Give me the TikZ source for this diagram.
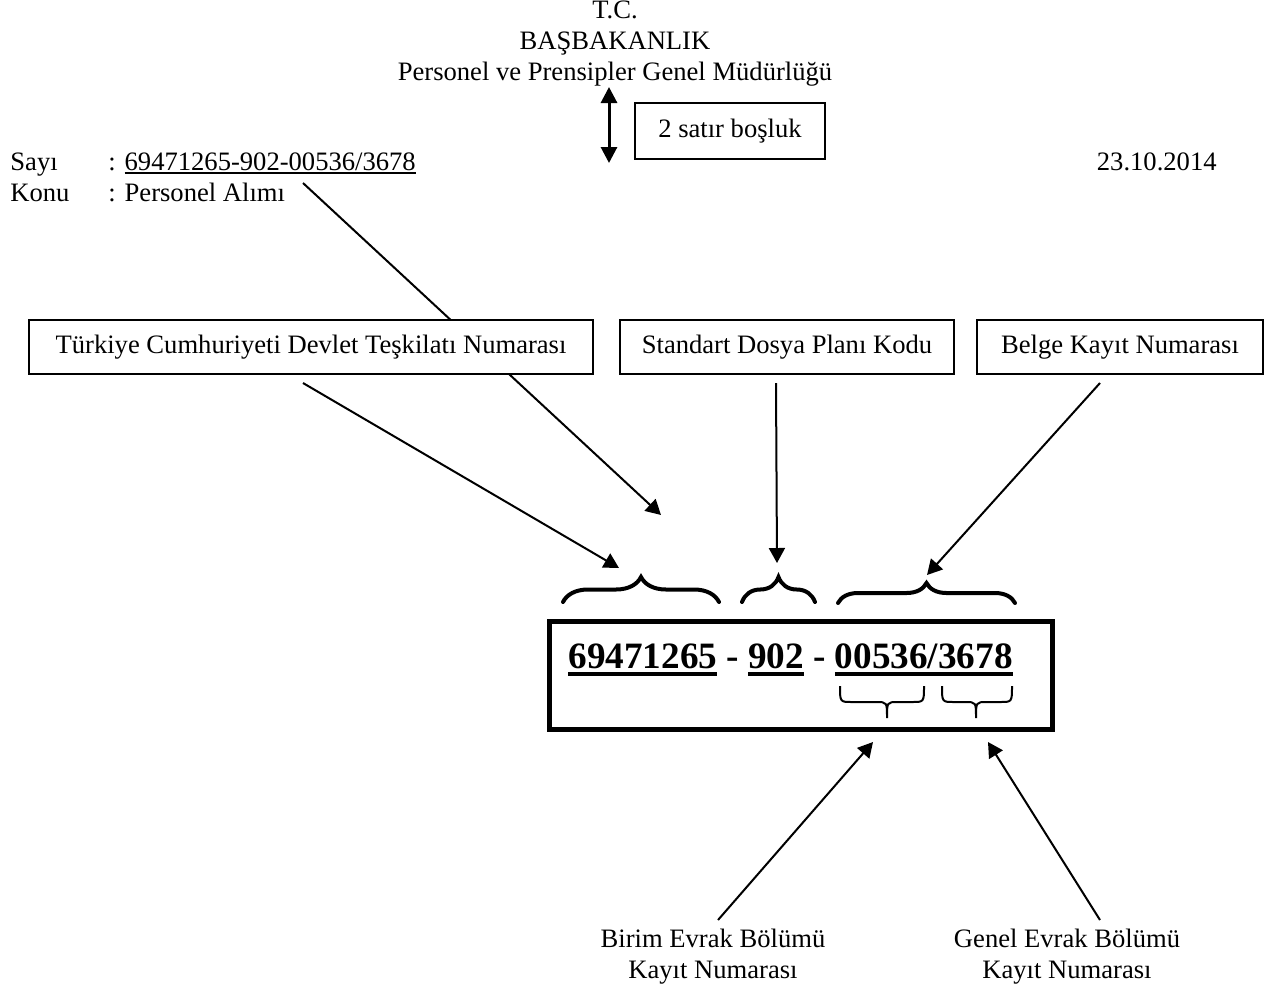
\documentclass[tikz,border=0pt]{standalone}
\usepackage{fontspec}
\setmainfont{Liberation Serif}
\usetikzlibrary{arrows.meta}
\usetikzlibrary{decorations.pathreplacing}
\newcommand{\yazi}{\fontsize{13.3pt}{15.5pt}\selectfont}
\newcommand{\iri}{\fontsize{18.6pt}{22pt}\selectfont\bfseries}
\newcommand{\altcizgi}[3]{\setbox0\hbox{#3}\rlap{\rule[#1]{\wd0}{#2}}\box0\relax}
\tikzset{%
  kutu/.style = {rectangle,draw,fill=white,line width=1pt,
        minimum height=27pt,font=\yazi},
  ok/.style = {-{Triangle[length=7.5pt,width=8pt]},line width=1pt},
  t/.style = {inner sep=0pt,font=\yazi},
  ayrac/.style = {decorate,decoration={brace,amplitude=#1},line width=2pt,line cap=round}
}
\begin{document}
\begin{tikzpicture}[x=0.5pt,y=-0.5pt]
\useasboundingbox (0,0) rectangle (1275,992);
% baslik
\node[t,anchor=base] (tc) at (615,18) {T.C.};
\node[t,anchor=base] (bb) at (615,49) {BAŞBAKANLIK};
\node[t,anchor=base] (pgm) at (615,80) {Personel ve Prensipler Genel Müdürlüğü};
% 2 satir bosluk
\coordinate (bosust) at (609,87);
\coordinate (bosalt) at (609,163);
\draw[{Triangle[length=8pt,width=8pt]}-{Triangle[length=8pt,width=8pt]},line width=1.5pt] (bosust) -- (bosalt);
\node[kutu,minimum width=95pt,minimum height=28pt] (bosluk) at (730,131) {2 satır boşluk};
% sayi ve konu
\node[t,anchor=base west] (sayi) at (10,170) {Sayı};
\node[t,anchor=base west] (sayino) at (108,170) {: \altcizgi{-1.8pt}{0.9pt}{69471265-902-00536/3678}};
\node[t,anchor=base east] (tarih) at (1217,170) {23.10.2014};
\node[t,anchor=base west] (konu) at (10,201) {Konu};
\node[t,anchor=base west] (konuad) at (108,201) {: Personel Alımı};
\coordinate (s1) at (303,183);
\coordinate (s2) at (661,515);
\draw[ok] (s1) -- (s2);
% kutular
\node[kutu,minimum width=282pt] (tck) at (311,347) {Türkiye Cumhuriyeti Devlet Teşkilatı Numarası};
\node[kutu,minimum width=167pt] (sdp) at (787,347) {Standart Dosya Planı Kodu};
\node[kutu,minimum width=143pt] (bkn) at (1120,347) {Belge Kayıt Numarası};
% numara kutusu
\node[draw,line width=2.5pt,minimum width=251.5pt,minimum height=54pt,inner sep=0pt] (kod) at (801,675.5) {};
\node[t,anchor=base west,font=\iri] (kodno) at (568,668) {\altcizgi{-4pt}{2pt}{69471265} - \altcizgi{-4pt}{2pt}{902} - \altcizgi{-4pt}{2pt}{00536/3678}};
% parantezler
\draw[ayrac=12.5pt] (563,602) -- (719,602);
\draw[ayrac=12.5pt] (742,602) -- (815,602);
\draw[ayrac=10pt] (838,603) -- (1015,603);
\draw[line width=1pt] (840,686) .. controls (840,702) .. (852,702) -- (876,702)
  .. controls (887,702) .. (887,718) .. controls (887,702) .. (898,702) -- (912,702)
  .. controls (924,702) .. (924,686);
\draw[line width=1pt] (942,686) .. controls (942,702) .. (954,702) -- (965,702)
  .. controls (976,702) .. (976,718) .. controls (976,702) .. (987,702) -- (1000,702)
  .. controls (1012,702) .. (1012,686);
% oklar
\coordinate (u1) at (619,568);
\coordinate (u2) at (777,563);
\coordinate (u3) at (927,575);
\draw[ok] ([shift={(-8,8)}]tck.south) -- (u1);
\draw[ok] ([shift={(-11,8)}]sdp.south) -- (u2);
\draw[ok] ([shift={(-20,8)}]bkn.south) -- (u3);
% alt yazilar
\node[t,align=center,anchor=north] (birim) at (713,929) {Birim Evrak Bölümü\\Kayıt Numarası};
\node[t,align=center,anchor=north] (genel) at (1067,929) {Genel Evrak Bölümü\\Kayıt Numarası};
\coordinate (a1) at (873,742);
\coordinate (a2) at (988,742);
\draw[ok] ([shift={(5,-9)}]birim.north) -- (a1);
\draw[ok] ([shift={(33,-9)}]genel.north) -- (a2);
\end{tikzpicture}
\end{document}
